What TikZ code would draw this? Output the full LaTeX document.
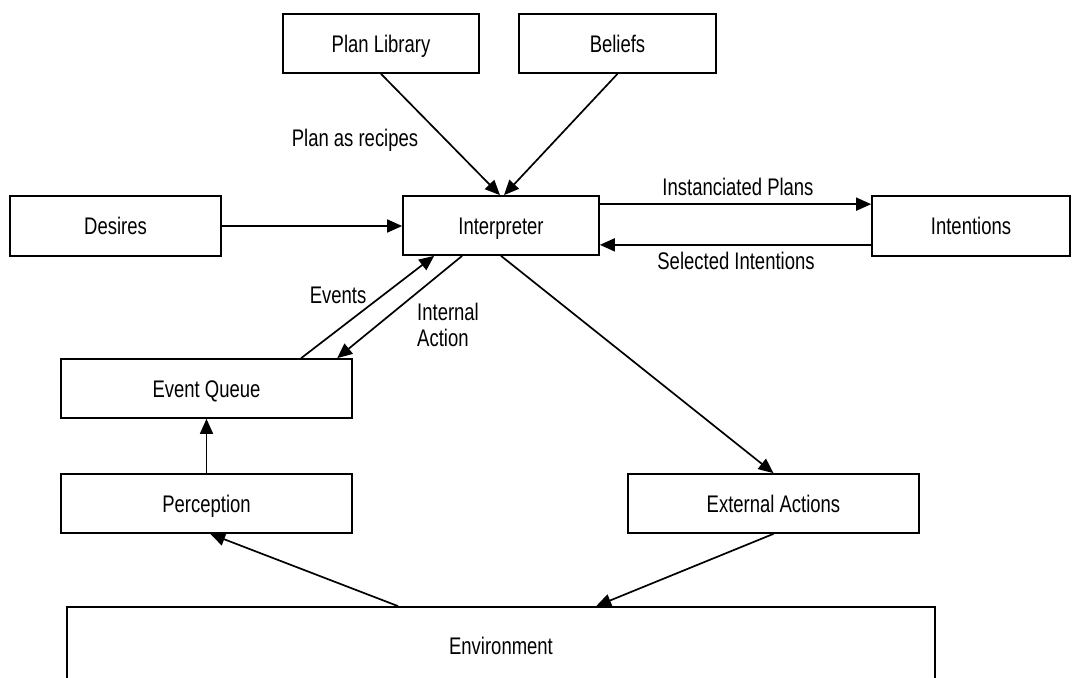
\documentclass[tikz,border=0pt]{standalone}
\usepackage{fontspec}
\setmainfont[FakeStretch=0.77]{Liberation Sans}
\usetikzlibrary{arrows.meta,calc}
\begin{document}
\begin{tikzpicture}[x=1pt,y=-1pt,
  box/.style={draw,line width=1.7pt,inner sep=0pt,text height=17.2pt,text depth=0pt,font=\fontsize{24}{28}\selectfont},
  lbl/.style={inner sep=0pt,text height=17.2pt,text depth=0pt,font=\fontsize{24}{28}\selectfont},
  conn/.style={line width=1.7pt,-{Triangle[length=15pt,width=13pt]}}]
\path[use as bounding box,clip] (0,0) rectangle (1072,678);
\fill[white] (0,0) rectangle (1072,678);
% boxes
\node[box,minimum width=196pt,minimum height=59pt] (planlib) at (381,43.5) {Plan Library};
\node[box,minimum width=197pt,minimum height=59pt] (beliefs) at (617.5,43.5) {Beliefs};
\node[box,minimum width=211pt,minimum height=60pt] (desires) at (115.5,226) {Desires};
\node[box,minimum width=196pt,minimum height=59pt] (interp) at (501,225.5) {Interpreter};
\node[box,minimum width=198pt,minimum height=60pt] (intentions) at (971,226) {Intentions};
\node[box,minimum width=291pt,minimum height=59pt] (eventq) at (206.5,388.5) {Event Queue};
\node[box,minimum width=291pt,minimum height=59pt] (percep) at (206.5,503.5) {Perception};
\node[box,minimum width=291pt,minimum height=59pt] (extact) at (773.5,503.5) {External Actions};
\node[box,minimum width=868pt,minimum height=78pt] (env) at (501,646) {Environment};
% connectors
\draw[conn] (planlib.south) -- ([xshift=-1pt]interp.north);
\draw[conn] (beliefs.south) -- ([xshift=3pt]interp.north);
\draw[conn] (desires.east) -- (desires.east -| interp.west);
\draw[conn] ([yshift=-9pt]interp.north east) -- ([yshift=-9pt]interp.north east -| intentions.west);
\draw[conn] ([yshift=12pt]intentions.south west) -- ([yshift=12pt]intentions.south west -| interp.east);
\draw[conn] ([xshift=241pt]eventq.north west) -- ([xshift=32pt]interp.south west);
\draw[conn] ([xshift=60pt]interp.south west) -- ([xshift=277pt]eventq.north west);
\draw[conn] (interp.south) -- (extact.north);
\draw[conn] (percep.north) -- (eventq.south);
\draw[conn] (extact.south) -- ([xshift=530pt]env.north west);
\draw[conn] ([xshift=332pt]env.north west) -- ([xshift=150pt]percep.south west);
% labels
\node[lbl] (lplan) at (355,138) {Plan as recipes};
\node[lbl] (linst) at (738,187) {Instanciated Plans};
\node[lbl] (lsel) at (736,261) {Selected Intentions};
\node[lbl] (levents) at (338,295) {Events};
\node[lbl,anchor=west] (lint1) at (417,312) {Internal};
\node[lbl,anchor=west] (lint2) at (417,338) {Action};
\end{tikzpicture}
\end{document}
